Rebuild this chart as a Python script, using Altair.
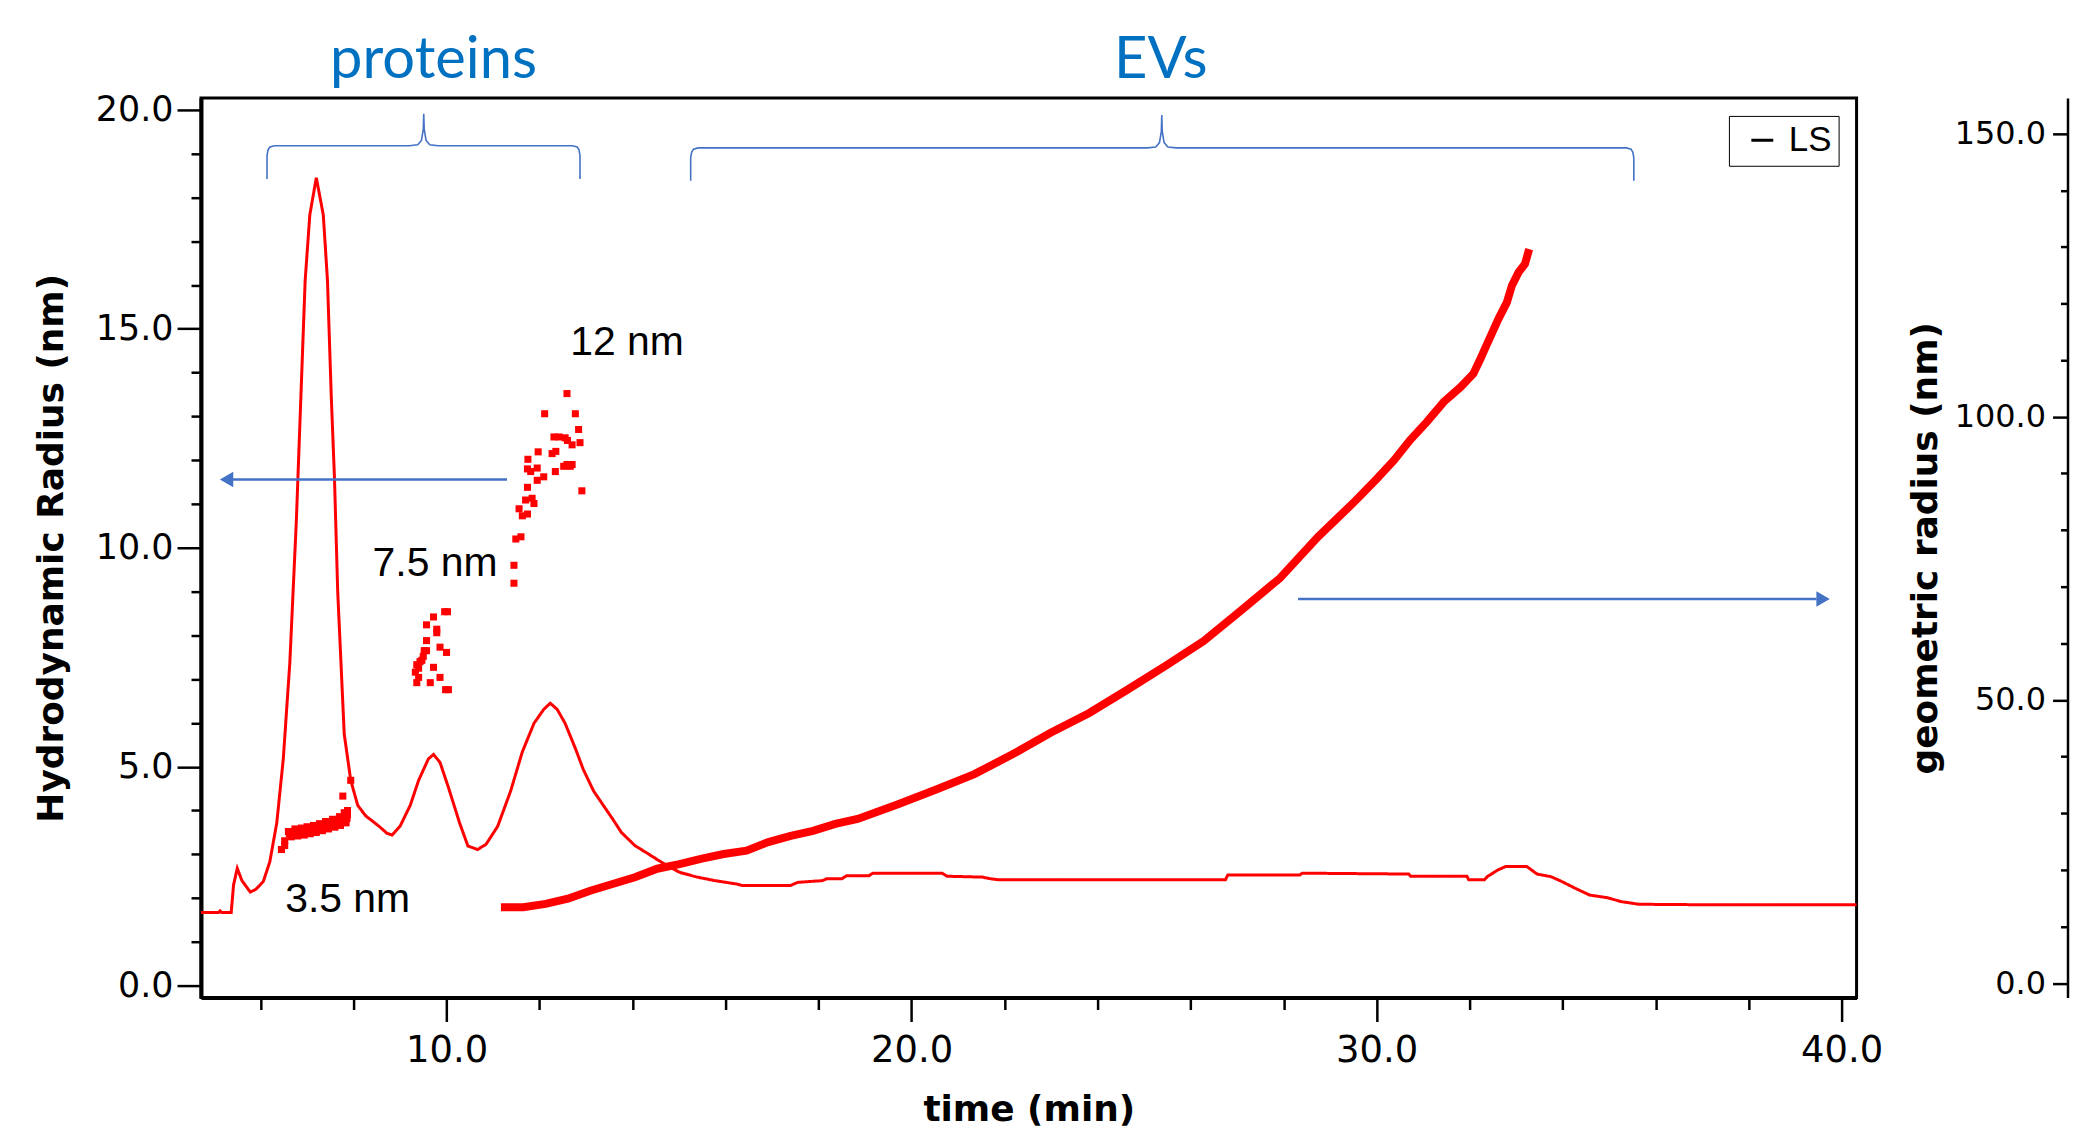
import altair as alt
import pandas as pd

# ---------------- data ----------------
# LS detector trace (plotted against the left axis)
ls_time = [4.72, 5.10, 5.13, 5.17, 5.37, 5.42, 5.50, 5.60, 5.78, 5.90, 6.06, 6.20, 6.35, 6.49, 6.63,
           6.77, 6.87, 6.96, 7.06, 7.20, 7.35, 7.44, 7.52, 7.59, 7.66, 7.80, 7.94, 8.09, 8.26, 8.55,
           8.72, 8.83, 9.00, 9.22, 9.40, 9.61, 9.72, 9.86, 10.04, 10.28, 10.46, 10.67, 10.85, 11.10,
           11.38, 11.63, 11.88, 12.09, 12.23, 12.38, 12.55, 12.77, 12.94, 13.16, 13.37, 13.57, 13.76,
           14.05, 14.34, 14.62, 15.01, 15.39, 15.77, 16.25, 16.35, 17.40, 17.55, 18.08, 18.17, 18.50,
           18.60, 19.08, 19.17, 20.66, 20.76, 21.52, 21.71, 21.86, 26.75, 26.80, 28.35, 28.40, 30.69,
           30.73, 31.94, 31.98, 32.32, 32.39, 32.62, 32.77, 33.23, 33.45, 33.75, 33.98, 34.28, 34.58,
           34.96, 35.26, 35.64, 36.92, 40.32]
ls_value = [1.67, 1.67, 1.71, 1.67, 1.67, 2.30, 2.68, 2.40, 2.14, 2.20, 2.38, 2.83, 3.72, 5.18, 7.37,
            10.60, 13.50, 16.10, 17.60, 18.45, 17.60, 16.10, 13.50, 11.60, 9.00, 5.75, 4.69, 4.12, 3.88, 3.64,
            3.48, 3.44, 3.64, 4.12, 4.69, 5.18, 5.28, 5.10, 4.53, 3.72, 3.19, 3.11, 3.23, 3.64,
            4.45, 5.34, 5.99, 6.31, 6.45, 6.31, 5.99, 5.42, 4.94, 4.45, 4.12, 3.81, 3.50,
            3.20, 3.01, 2.82, 2.59, 2.48, 2.40, 2.32, 2.29, 2.29, 2.36, 2.40, 2.44, 2.44,
            2.51, 2.51, 2.57, 2.57, 2.50, 2.48, 2.44, 2.42, 2.42, 2.53, 2.53, 2.57, 2.55,
            2.50, 2.50, 2.42, 2.42, 2.50, 2.65, 2.72, 2.72, 2.55, 2.49, 2.38, 2.22, 2.07,
            2.01, 1.92, 1.86, 1.85, 1.85]

# Hydrodynamic radius points (left axis)
rh_time = [6.45, 6.52, 6.52, 6.60, 6.62, 6.70, 6.76, 6.83, 6.90, 6.97, 7.03, 7.10, 7.16, 7.23, 7.28,
           7.35, 7.41, 7.46, 7.52, 7.58, 7.63, 7.68, 7.73, 7.78, 7.83, 7.87, 7.86, 7.77, 7.94,
           6.66, 6.80, 6.94, 7.07, 7.20, 7.33, 7.46, 7.60, 7.72, 7.84,
           6.74, 6.88, 7.00, 7.14, 7.27, 7.40, 7.55, 7.70, 7.80, 7.87,
           9.96, 10.02, 9.72, 9.57, 9.79, 9.79, 9.57, 9.57, 9.52, 9.47, 9.86, 10.00, 9.36, 9.40,
           9.33, 9.40, 9.72, 9.86, 9.36, 9.65, 9.98, 10.04, 9.43, 9.50,
           11.45, 11.45, 11.49, 11.60, 11.63, 11.74, 11.56, 11.70, 11.88, 11.84, 11.74, 11.95,
           12.09, 11.81, 11.95, 12.34, 12.52, 12.66, 12.91, 12.27, 11.75, 11.97, 12.11, 12.59,
           12.31, 12.42, 12.55, 12.77, 12.84, 12.60, 12.70, 12.87, 12.35, 12.59, 12.70, 11.74]
rh_value = [3.11, 3.20, 3.31, 3.52, 3.47, 3.50, 3.44, 3.52, 3.47, 3.55, 3.50, 3.58, 3.52, 3.62, 3.56,
            3.66, 3.60, 3.70, 3.64, 3.74, 3.68, 3.80, 3.72, 3.84, 3.78, 3.90, 3.82, 4.33, 4.69,
            3.40, 3.42, 3.44, 3.47, 3.50, 3.54, 3.58, 3.62, 3.66, 3.72,
            3.58, 3.60, 3.63, 3.66, 3.70, 3.75, 3.80, 3.86, 3.95, 4.00,
            8.54, 8.54, 8.42, 8.24, 8.14, 8.06, 7.88, 7.65, 7.65, 7.43, 7.73, 7.61, 7.33, 7.25,
            7.16, 7.04, 7.27, 7.04, 6.92, 6.92, 6.76, 6.76, 7.40, 7.52,
            9.19, 9.60, 10.20, 10.25, 10.73, 10.77, 10.89, 11.09, 11.01, 11.13, 11.38, 11.54,
            11.62, 11.74, 11.82, 11.74, 11.86, 11.86, 11.30, 12.15, 12.02, 12.19, 13.06, 13.52,
            12.53, 12.53, 12.51, 13.06, 12.70, 12.45, 12.35, 12.40, 12.20, 11.90, 11.90, 11.80]

# Geometric radius (right axis)
rg_time = [11.17, 11.37, 11.65, 12.13, 12.61, 13.09, 13.57, 14.05, 14.53, 15.01, 15.49, 15.96, 16.45,
           16.92, 17.40, 17.88, 18.36, 18.84, 19.71, 20.53, 21.35, 22.17, 22.99, 23.82, 24.64, 25.46,
           26.28, 27.10, 27.92, 28.74, 29.56, 30.01, 30.37, 30.72, 31.08, 31.44, 31.80, 32.08, 32.23,
           32.41, 32.62, 32.80, 32.91, 33.05, 33.19, 33.28]
rg_value = [13.4, 13.4, 13.4, 14.0, 14.9, 16.3, 17.5, 18.7, 20.2, 21.0, 22.0, 22.8, 23.4,
            24.9, 26.0, 26.9, 28.1, 29.0, 31.6, 34.2, 36.9, 40.4, 44.2, 47.7, 51.8, 56.0,
            60.4, 65.9, 71.5, 78.8, 85.3, 89.1, 92.3, 95.9, 99.1, 102.6, 105.2, 107.6, 110.2,
            113.5, 117.3, 120.2, 123.2, 125.5, 127.0, 129.6]

# axis ticks
x_major = [10, 20, 30, 40]
x_minor = [6, 8, 12, 14, 16, 18, 22, 24, 26, 28, 32, 34, 36, 38]
yl_major = [0, 5, 10, 15, 20]
yl_minor = [1, 2, 3, 4, 6, 7, 8, 9, 11, 12, 13, 14, 16, 17, 18, 19]
yr_major = [0, 50, 100, 150]
yr_minor = [10, 20, 30, 40, 60, 70, 80, 90, 110, 120, 130, 140]

X_DOM = [4.72, 40.32]
YL_DOM = [-0.27, 20.27]
YR_DOM = [-2.55, 156.3]

# annotations (data units)
note_label = ["12 nm", "7.5 nm", "3.5 nm"]
note_time = [12.66, 8.41, 6.53]
note_value = [14.40, 9.35, 1.69]

group_label = ["proteins", "EVs"]
group_time = [9.72, 25.36]
group_value = [20.72, 20.72]

brace_group = ["p"] * 19 + ["e"] * 19
brace_time = [6.14, 6.14, 6.16, 6.20, 6.30, 9.20, 9.38, 9.46, 9.50, 9.51, 9.52, 9.56, 9.64, 9.82, 12.71, 12.81, 12.85, 12.87, 12.87,
              15.25, 15.25, 15.27, 15.31, 15.41, 25.07, 25.25, 25.33, 25.37, 25.38, 25.39, 25.43, 25.51, 25.69, 35.37, 35.47, 35.51, 35.53, 35.53]
brace_value = [18.42, 18.95, 19.08, 19.15, 19.18, 19.18, 19.20, 19.30, 19.55, 19.91, 19.55, 19.30, 19.20, 19.18, 19.18, 19.15, 19.08, 18.95, 18.42,
               18.38, 18.90, 19.03, 19.10, 19.13, 19.13, 19.15, 19.25, 19.50, 19.88, 19.50, 19.25, 19.15, 19.13, 19.13, 19.10, 19.03, 18.90, 18.38]

arrow_group = ["L", "L", "R", "R"]
arrow_time = [5.40, 11.30, 28.31, 39.46]
arrow_value = [11.56, 11.56, 8.83, 8.83]
head_shape = ["triangle-left", "triangle-right"]
head_time = [5.27, 39.60]
head_value = [11.56, 8.83]

# ---------------- tables ----------------
ls_df = pd.DataFrame({"t": ls_time, "v": ls_value, "s": "LS"})
rh_df = pd.DataFrame({"t": rh_time, "v": rh_value})
rg_df = pd.DataFrame({"t": rg_time, "v": rg_value})
note_df = pd.DataFrame({"t": note_time, "v": note_value, "label": note_label})
group_df = pd.DataFrame({"t": group_time, "v": group_value, "label": group_label})
brace_df = pd.DataFrame({"t": brace_time, "v": brace_value, "g": brace_group,
                         "o": list(range(len(brace_time)))})
arrow_df = pd.DataFrame({"t": arrow_time, "v": arrow_value, "g": arrow_group})
head_df = pd.DataFrame({"t": head_time, "v": head_value, "shape": head_shape})

XS = alt.Scale(domain=X_DOM, nice=False, zero=False)
YLS = alt.Scale(domain=YL_DOM, nice=False, zero=False)
YRS = alt.Scale(domain=YR_DOM, nice=False, zero=False)

AX = dict(grid=False, domainColor="black", tickColor="black", labelColor="black",
          titleColor="black", labelFont="DejaVu Sans", titleFont="DejaVu Sans",
          titleFontWeight="bold")

x_major_axis = alt.Axis(orient="bottom", values=x_major, format=".1f", title="time (min)",
                        tickSize=24, tickWidth=2.5, domainWidth=4, labelFontSize=37,
                        labelPadding=11, labelFlush=False, labelOverlap=False,
                        titleFontSize=36, titlePadding=24, **AX)
x_minor_axis = alt.Axis(orient="bottom", values=x_minor, labels=False, title=None, tickSize=12,
                        tickWidth=2.5, domain=False, grid=False, tickColor="black")
yl_major_axis = alt.Axis(orient="left", values=yl_major, format=".1f",
                         title="Hydrodynamic Radius (nm)", tickSize=24, tickWidth=2.5,
                         domainWidth=4, labelFontSize=35, labelPadding=4, labelOverlap=False,
                         titleFontSize=36, titlePadding=25, **AX)
yl_minor_axis = alt.Axis(orient="left", values=yl_minor, labels=False, title=None, tickSize=10,
                         tickWidth=2.5, domain=False, grid=False, tickColor="black")
RIGHT_OFFSET = -1871.5
yr_major_axis = alt.Axis(orient="left", offset=RIGHT_OFFSET, values=yr_major, format=".1f",
                         title="geometric radius (nm)", tickSize=15, tickWidth=2.5,
                         domainWidth=2.5, labelFontSize=32, labelPadding=7, labelOverlap=False,
                         titleFontSize=36, titlePadding=10, **AX)
yr_minor_axis = alt.Axis(orient="left", offset=RIGHT_OFFSET, values=yr_minor, labels=False,
                         title=None, tickSize=7, tickWidth=2.5, domain=False, grid=False,
                         tickColor="black")

BLUE = "#4472C4"
RED = "#ff0000"

ls_line = alt.Chart(ls_df).mark_line(strokeWidth=3, color=RED).encode(
    x=alt.X("t:Q", scale=XS, axis=x_major_axis),
    y=alt.Y("v:Q", scale=YLS, axis=yl_major_axis),
    strokeDash=alt.StrokeDash("s:N", scale=alt.Scale(domain=["LS"], range=[[1, 0]]),
                              legend=alt.Legend(orient="top-right", offset=18, title=None,
                                                symbolType="stroke", symbolSize=484,
                                                symbolStrokeWidth=3, symbolStrokeColor="black",
                                                symbolOffset=9,
                                                labelFont="Liberation Sans", labelFontSize=35,
                                                labelColor="black", labelOffset=9, padding=7,
                                                strokeColor="black", fillColor="white")),
)

rh_pts = alt.Chart(rh_df).mark_square(size=50, color=RED, opacity=1).encode(
    x=alt.X("t:Q", scale=XS, axis=None),
    y=alt.Y("v:Q", scale=YLS, axis=None),
)

braces = alt.Chart(brace_df).mark_line(color=BLUE, strokeWidth=1.6).encode(
    x=alt.X("t:Q", scale=XS, axis=None),
    y=alt.Y("v:Q", scale=YLS, axis=None),
    detail="g:N",
    order="o:Q",
)

arrows = alt.Chart(arrow_df).mark_line(color=BLUE, strokeWidth=2.5).encode(
    x=alt.X("t:Q", scale=XS, axis=None),
    y=alt.Y("v:Q", scale=YLS, axis=None),
    detail="g:N",
)

heads = alt.Chart(head_df).mark_point(filled=True, size=240, color=BLUE, opacity=1).encode(
    x=alt.X("t:Q", scale=XS, axis=None),
    y=alt.Y("v:Q", scale=YLS, axis=None),
    shape=alt.Shape("shape:N", scale=None),
)

notes = alt.Chart(note_df).mark_text(align="left", baseline="alphabetic", font="Liberation Sans",
                                     fontSize=41, color="black").encode(
    x=alt.X("t:Q", scale=XS, axis=None),
    y=alt.Y("v:Q", scale=YLS, axis=None),
    text="label:N",
)

groups = alt.Chart(group_df).mark_text(align="center", baseline="alphabetic", font="Lato",
                                       fontSize=58, color="#0070C0").encode(
    x=alt.X("t:Q", scale=XS, axis=None),
    y=alt.Y("v:Q", scale=YLS, axis=None),
    text="label:N",
)

left_minor = alt.Chart(ls_df).mark_line(strokeOpacity=0).encode(
    x=alt.X("t:Q", scale=XS, axis=x_minor_axis),
    y=alt.Y("v:Q", scale=YLS, axis=yl_minor_axis),
)

right_main = alt.Chart(rg_df).mark_line(color=RED, strokeWidth=8).encode(
    x=alt.X("t:Q", scale=XS, axis=None),
    y=alt.Y("v:Q", scale=YRS, axis=yr_major_axis),
)

right_minor = alt.Chart(rg_df).mark_line(strokeOpacity=0).encode(
    x=alt.X("t:Q", scale=XS, axis=None),
    y=alt.Y("v:Q", scale=YRS, axis=yr_minor_axis),
)

chart = alt.layer(
    ls_line, left_minor, right_main, right_minor, rh_pts, braces, arrows, heads, notes, groups
).resolve_scale(
    y="independent"
).resolve_axis(
    x="independent", y="independent"
).properties(
    width=1660, height=902,
    padding={"left": 193.5, "top": 88.7, "right": 214, "bottom": 136},
    autosize=alt.AutoSizeParams(type="none"),
    background="white",
).configure_view(stroke="black", strokeWidth=3)

chart.save("out.html", embed_options={"renderer": "svg", "actions": False})
